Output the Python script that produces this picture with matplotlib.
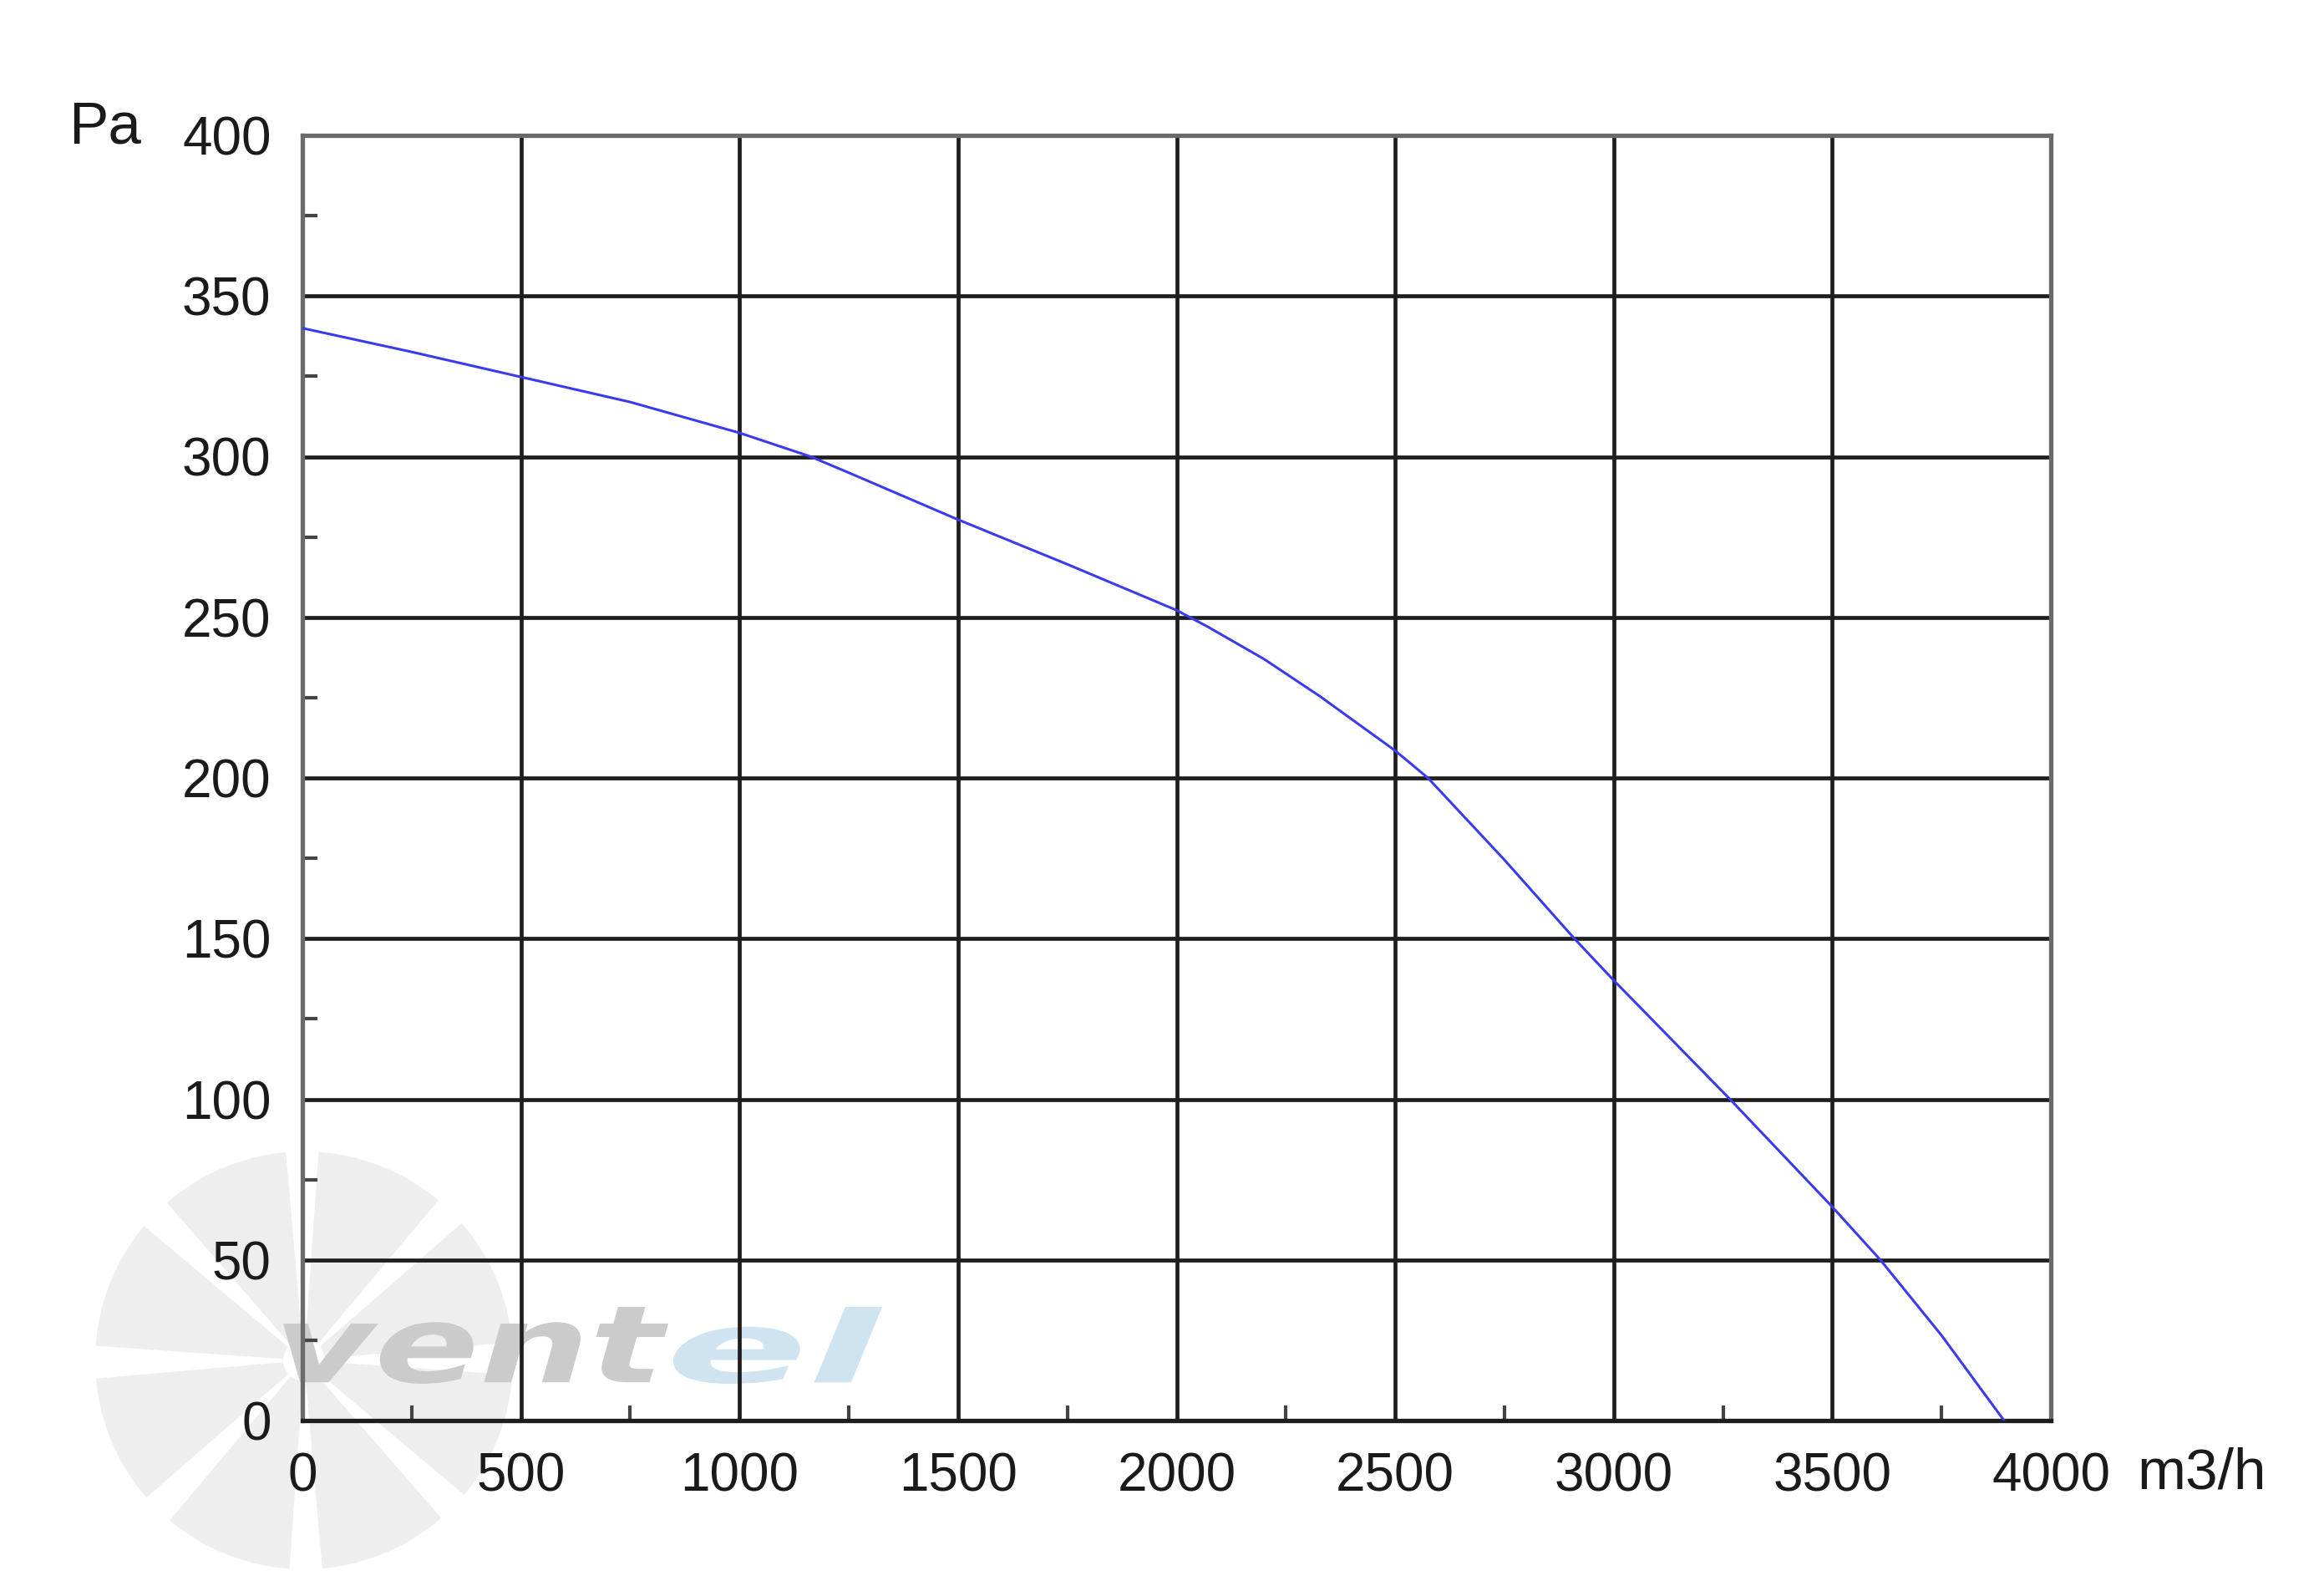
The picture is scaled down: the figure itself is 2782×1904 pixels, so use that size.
import matplotlib
matplotlib.use("Agg")
import matplotlib.pyplot as plt
from matplotlib.patches import Wedge, PathPatch
from matplotlib.textpath import TextPath
from matplotlib.font_manager import FontProperties
from matplotlib.transforms import Affine2D
import numpy as np

# ---- data ----
airflow = [0, 250, 500, 750, 1000, 1163, 1250, 1500, 1750, 2000, 2072, 2200,
           2328, 2500, 2575, 2750, 2910, 3000, 3266, 3500, 3610, 3750, 3893]
pressure = [340, 332.6, 324.8, 317, 307.4, 300, 295, 280.4, 266.5, 252.2, 247,
            237, 225.4, 208.5, 200, 174.5, 150, 137, 100, 66.5, 50, 26.5, 0]
x_ticks = [0, 500, 1000, 1500, 2000, 2500, 3000, 3500, 4000]
y_ticks = [0, 50, 100, 150, 200, 250, 300, 350, 400]
x_unit = "m3/h"
y_unit = "Pa"

W, H = 2782, 1904
fig = plt.figure(figsize=(W / 100, H / 100), dpi=100)
fig.patch.set_facecolor("white")

# ---- watermark (drawn on a background overlay axes in pixel units) ----
bg = fig.add_axes([0, 0, 1, 1], zorder=0)
bg.set_xlim(0, W)
bg.set_ylim(H, 0)
bg.axis("off")
cx, cy, R = 364, 1628, 250
angles = np.arange(0, 360, 45)
for a in angles:
    bg.add_patch(Wedge((cx, cy), R, a + 4, a + 40, width=R - 25,
                       facecolor="#eeeeee", edgecolor="none"))
fp = FontProperties(family="DejaVu Sans", weight="heavy", style="italic")
def fit_text(s, x0, x1, y0, y1, color):
    tp = TextPath((0, 0), s, prop=fp, size=100)
    bb = tp.get_extents()
    sx = (x1 - x0) / bb.width
    sy = (y1 - y0) / bb.height
    tr = Affine2D().translate(-bb.x0, -bb.y0).scale(sx, -sy).translate(x0, y1)
    bg.add_patch(PathPatch(tr.transform_path(tp), facecolor=color,
                           edgecolor="none"))
fit_text("vent", 339, 800, 1564, 1656, "#cbcbcb")
fit_text("el", 806, 1056, 1564, 1656, "#cfe3f1")

# ---- main chart ----
ax = fig.add_axes([362 / W, (H - 1700) / H, (2455 - 362) / W, (1700 - 162) / H],
                  zorder=1)
ax.patch.set_alpha(0)
ax.plot(airflow, pressure, color="#3a3af0", lw=2.2, zorder=5)
ax.set_xlim(0, 4000)
ax.set_ylim(0, 400)
ax.set_xticks(x_ticks)
ax.set_yticks(y_ticks)
ax.set_xticks(np.arange(250, 4000, 500), minor=True)
ax.set_yticks(np.arange(25, 400, 50), minor=True)
ax.grid(True, which="major", color="#1e1e1e", lw=3.4, zorder=1)
ax.set_axisbelow(True)
for side in ["left", "top", "right"]:
    ax.spines[side].set_color("#6a6a6a")
    ax.spines[side].set_linewidth(3.8)
ax.spines["bottom"].set_color("#1e1e1e")
ax.spines["bottom"].set_linewidth(3.8)
lab_font = dict(family=["Liberation Sans", "DejaVu Sans"], size=46)
ax.tick_params(which="major", length=0, pad=27)
ax.tick_params(which="minor", direction="in", length=13, width=3,
               color="#444444")
ax.set_xticklabels([str(v) for v in x_ticks], **lab_font, color="#1a1a1a")
ax.set_yticklabels([str(v) for v in y_ticks], **lab_font, color="#1a1a1a")

fig.text(82 / W, 1 - 153 / H, y_unit, ha="left", va="center",
         family=["Liberation Sans", "DejaVu Sans"], size=51, color="#1a1a1a")
fig.text(2558 / W, 1 - 1781 / H, x_unit, ha="left", va="baseline",
         family=["Liberation Sans", "DejaVu Sans"], size=50, color="#1a1a1a")

fig.savefig("out.png", dpi=100, facecolor="white")
